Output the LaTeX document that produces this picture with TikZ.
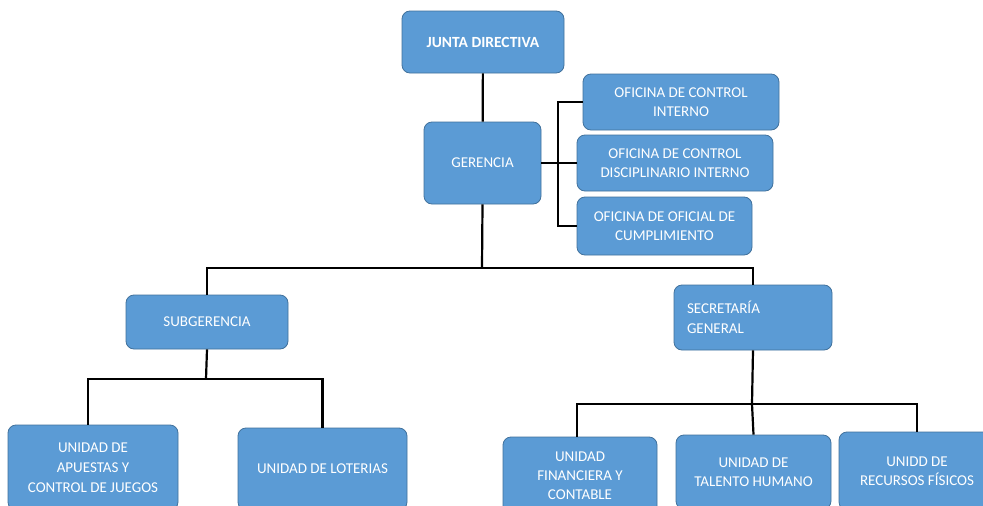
\documentclass[tikz,border=0pt]{standalone}
\usepackage{fontspec}
\setmainfont{Carlito}
\definecolor{boxfill}{HTML}{5B9BD5}
\definecolor{boxline}{HTML}{41719C}
\begin{document}
\begin{tikzpicture}[x=1pt,y=-1pt,
  box/.style={draw=boxline, line width=0.8pt, fill=boxfill, rounded corners=8pt,
    text=white, align=center, font=\fontsize{15}{19}\selectfont, inner sep=2pt},
  conn/.style={draw=black, line width=2.2pt}]
\clip (0,0) rectangle (983,506);
\fill[white] (0,0) rectangle (983,506);
% top
\node[box, font=\fontsize{15.5}{19}\selectfont\bfseries, minimum width=162pt, minimum height=62pt] (jd) at (483,42) {JUNTA DIRECTIVA};
\node[box, minimum width=117pt, minimum height=82pt] (ger) at (482.5,163) {GERENCIA};
\node[box, minimum width=196pt, minimum height=56pt] (oci) at (681,102) {OFICINA DE CONTROL\\INTERNO};
\node[box, minimum width=196pt, minimum height=56pt] (ocd) at (675,163) {OFICINA DE CONTROL\\DISCIPLINARIO INTERNO};
\node[box, minimum width=175pt, minimum height=58pt] (ocu) at (664.5,226) {OFICINA DE OFICIAL DE\\CUMPLIMIENTO};
% second level
\node[box, minimum width=162pt, minimum height=54pt] (sub) at (207,322) {SUBGERENCIA};
\node[box, minimum width=158pt, minimum height=65pt, text width=132pt, align=left, font=\fontsize{15}{20}\selectfont] (sec) at (753,317.5) {SECRETARÍA\\GENERAL};
% third level
\node[box, minimum width=170pt, minimum height=85pt, font=\fontsize{15}{20}\selectfont] (apu) at (93,467.5) {UNIDAD DE\\APUESTAS Y\\CONTROL DE JUEGOS};
\node[box, minimum width=169pt, minimum height=82pt] (lot) at (322.5,469) {UNIDAD DE LOTERIAS};
\node[box, minimum width=154pt, minimum height=78pt] (fin) at (580,476) {UNIDAD\\FINANCIERA Y\\CONTABLE};
\node[box, minimum width=155pt, minimum height=74pt] (tal) at (753.5,472) {UNIDAD DE\\TALENTO HUMANO};
\node[box, minimum width=156pt, minimum height=78pt] (rec) at (917,471) {UNIDD DE\\RECURSOS FÍSICOS};
% connectors
\coordinate (b1) at (482,268);
\coordinate (b2) at (206,379);
\coordinate (b3) at (752,404);
\coordinate (v1) at (558,102);
\coordinate (v3) at (558,226);
\draw[conn] (jd) -- (ger);
\draw[conn] (oci.west) -- (v1) -- (v3) -- (ocu.west);
\draw[conn] (ger.east) -- (ocd.west);
\draw[conn] (ger.south) -- (b1);
\draw[conn] (sub.north) |- (b1) -| (sec.north);
\draw[conn] (sub.south) -- (b2);
\draw[conn] ([xshift=-5pt]apu.north) |- (b2) -| (lot.north);
\draw[conn] (sec.south) -- (b3);
\draw[conn] ([xshift=-3pt]fin.north) |- (b3) -| (rec.north);
\draw[conn] (b3) -- (tal.north);
\end{tikzpicture}
\end{document}
